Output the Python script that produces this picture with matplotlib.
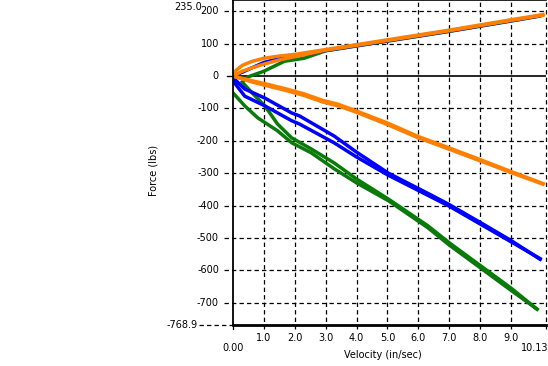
import matplotlib
matplotlib.use("Agg")
import matplotlib.pyplot as plt

# axis range and tick labels
x_min, x_max = 0.0, 10.13
y_min, y_max = -768.9, 235.0
x_ticks = [1, 2, 3, 4, 5, 6, 7, 8, 9]
x_tick_labels = ["1.0", "2.0", "3.0", "4.0", "5.0", "6.0", "7.0", "8.0", "9.0"]
y_ticks = [200, 100, 0, -100, -200, -300, -400, -500, -600, -700]
y_tick_labels = ["200", "100", "0", "-100", "-200", "-300", "-400", "-500", "-600", "-700"]

# green loop
green_up_v = [0.3, 0.5, 1.0, 1.67, 2.3, 3.0, 4.0, 5.0, 6.0, 7.0, 8.0, 9.0, 9.84]
green_up_f = [-18, -2, 15, 46, 55, 78, 93, 108, 123, 138, 154, 170, 184]
green_lo1_v = [0.0, 0.38, 0.8, 1.44, 1.9, 2.53, 3.27, 4.0, 5.03, 6.3, 7.0, 8.0, 9.0, 9.84]
green_lo1_f = [-52, -92, -129, -169, -206, -237, -286, -330, -385, -468, -522, -592, -662, -720]
green_lo2_v = [0.32, 0.6, 1.03, 1.44, 1.9, 2.53, 3.27, 4.0, 5.03, 6.3, 7.0, 8.0, 9.0, 9.84]
green_lo2_f = [-21, -50, -92, -148, -191, -225, -268, -318, -380, -462, -515, -585, -655, -720]

# blue loop
blue_up_v = [0.0, 0.3, 0.6, 1.0, 1.5, 2.0, 2.5, 3.0, 4.0, 5.0, 6.0, 7.0, 8.0, 9.0, 9.94]
blue_up_f = [0, 12, 25, 42, 54, 62, 70, 79, 94, 109, 124, 139, 155, 171, 186]
blue_lo1_v = [0.0, 0.38, 1.03, 1.9, 2.15, 3.27, 4.0, 5.03, 6.3, 7.0, 8.0, 9.0, 9.94]
blue_lo1_f = [-5, -40, -68, -114, -123, -185, -235, -300, -362, -397, -452, -508, -566]
blue_lo2_v = [0.0, 0.38, 1.03, 1.9, 2.15, 3.27, 4.0, 5.0, 6.3, 7.0, 8.0, 9.0, 9.94]
blue_lo2_f = [-15, -62, -92, -138, -148, -206, -250, -305, -368, -402, -457, -512, -564]

# orange loop
orange_up1_v = [0.0, 0.1, 0.3, 0.6, 1.0, 1.5, 2.0, 3.0, 4.0, 5.0, 6.0, 7.0, 8.0, 9.0, 10.03]
orange_up1_f = [0, 18, 33, 45, 55, 62, 67, 82, 97, 112, 127, 142, 158, 174, 190]
orange_up2_v = [0.0, 0.3, 0.6, 1.0, 1.5, 2.0, 2.5, 3.0, 4.0, 5.0, 6.0, 7.0, 8.0, 9.0, 10.03]
orange_up2_f = [0, 15, 25, 37, 50, 60, 70, 80, 95, 110, 125, 140, 156, 172, 188]
orange_lo1_v = [0.0, 0.64, 1.1, 1.73, 2.3, 2.9, 3.4, 4.0, 5.0, 6.0, 7.0, 8.0, 9.0, 10.03]
orange_lo1_f = [0, -15, -25, -40, -55, -75, -87, -108, -145, -187, -222, -258, -295, -332]
orange_lo2_v = [0.0, 0.64, 1.1, 1.73, 2.3, 2.9, 3.4, 4.0, 5.0, 6.0, 7.0, 8.0, 9.0, 10.03]
orange_lo2_f = [0, -19, -30, -45, -60, -80, -92, -112, -150, -191, -226, -262, -298, -334]

GREEN = "#0a7a0a"
BLUE = "#0000ff"
ORANGE = "#ff8000"
LW = 2.5

fig = plt.figure(figsize=(5.48, 3.66), dpi=100)
ax = fig.add_axes([233 / 548, 41 / 366, 313 / 548, 325 / 366])

# curves
ax.plot(green_up_v, green_up_f, color=GREEN, lw=LW)
ax.plot(green_lo1_v, green_lo1_f, color=GREEN, lw=LW)
ax.plot(green_lo2_v, green_lo2_f, color=GREEN, lw=LW)
ax.plot(blue_up_v, blue_up_f, color=BLUE, lw=LW)
ax.plot(blue_lo1_v, blue_lo1_f, color=BLUE, lw=LW)
ax.plot(blue_lo2_v, blue_lo2_f, color=BLUE, lw=LW)
ax.plot(orange_up1_v, orange_up1_f, color=ORANGE, lw=LW)
ax.plot(orange_up2_v, orange_up2_f, color=ORANGE, lw=LW)
ax.plot(orange_lo1_v, orange_lo1_f, color=ORANGE, lw=LW)
ax.plot(orange_lo2_v, orange_lo2_f, color=ORANGE, lw=LW)

ax.set_xlim(x_min, x_max)
ax.set_ylim(y_min, y_max)

dash = (0, (3.5, 2.5))
ytrans = ax.get_yaxis_transform()
xtrans = ax.get_xaxis_transform()

# dashed grid, horizontal ones poke out left of the axis
for y in y_ticks:
    if y == 0:
        ax.axhline(0, color="black", lw=1.2, zorder=1)
        ax.plot([-0.02, 0], [0, 0], transform=ytrans, color="black", lw=1.0, clip_on=False)
    else:
        ax.plot([-0.028, 1], [y, y], transform=ytrans, color="black", lw=0.9,
                ls=dash, clip_on=False, zorder=0)
ax.plot([-0.11, 0], [y_min, y_min], transform=ytrans, color="black", lw=0.9,
        ls=dash, clip_on=False)
for x in x_ticks + [x_max]:
    ax.plot([x, x], [-0.012, 1], transform=xtrans, color="black", lw=0.9,
            ls=dash, clip_on=False, zorder=0)
ax.plot([0, 0], [-0.012, 0], transform=xtrans, color="black", lw=0.9, clip_on=False)

ax.set_xticks([])
ax.set_yticks([])
ax.spines["right"].set_visible(False)
ax.spines["left"].set_linewidth(1.3)
ax.spines["bottom"].set_linewidth(2.0)
ax.spines["top"].set_linewidth(1.2)

fs = 7
# tick labels
for y, lab in zip(y_ticks, y_tick_labels):
    ax.text(-0.045, y, lab, transform=ytrans, ha="right", va="center", fontsize=fs)
ax.text(-0.1, 235.0 - 22, "235.0", transform=ytrans, ha="right", va="center", fontsize=fs)
ax.text(-0.112, y_min, "-768.9", transform=ytrans, ha="right", va="center", fontsize=fs)
for x, lab in zip(x_ticks, x_tick_labels):
    ax.text(x, -0.04, lab, transform=xtrans, ha="center", va="center", fontsize=fs)
ax.text(0, -0.07, "0.00", transform=xtrans, ha="center", va="center", fontsize=fs)
ax.text(x_max - 0.35, -0.07, "10.13", transform=xtrans, ha="center", va="center", fontsize=fs)

fig.text(153 / 548, 1 - 170 / 366, "Force (lbs)", rotation=90, ha="center", va="center", fontsize=fs)
fig.text(383 / 548, 1 - 355 / 366, "Velocity (in/sec)", ha="center", va="center", fontsize=fs)

fig.savefig("out.png", dpi=100)
